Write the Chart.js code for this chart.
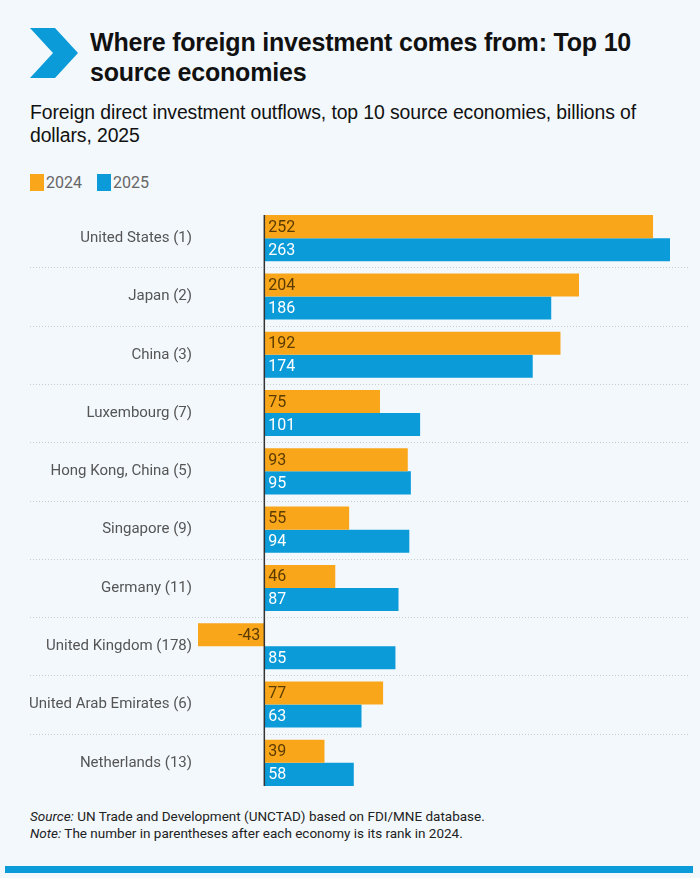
<!DOCTYPE html>
<html>
<head>
<meta charset="utf-8">
<script src="https://cdn.jsdelivr.net/npm/chart.js@4"></script>
<style>
  body { margin: 0; background: #f3f8fc; width: 700px; height: 878px; overflow: hidden; position: relative; font-family: "Liberation Sans", Arial, sans-serif; }
  .abs { position: absolute; }
  #title { left: 90px; top: 27px; font-size: 25px; font-weight: bold; line-height: 30px; color: #111; letter-spacing: -0.2px; }
  #subtitle { left: 30px; top: 101px; font-size: 19.4px; line-height: 23px; color: #111; letter-spacing: -0.1px; }
  #legend { left: 30px; top: 173px; font-family: Roboto, sans-serif; font-size: 16px; color: #666; }
  #legend span.sw { display: inline-block; width: 14px; height: 17px; vertical-align: -3px; margin-right: 2px; }
  #legend span.item { margin-right: 11px; }
  #chartBox { left: 0; top: 194px; width: 700px; height: 613px; }
  #foot { left: 30px; top: 808px; font-family: Roboto, sans-serif; font-size: 13.5px; line-height: 17px; color: #222; }
  #bar { left: 5px; top: 866px; width: 688px; height: 7px; background: #0a9bd8; }
</style>
</head>
<body>
<svg class="abs" style="left:0;top:0" width="90" height="90">
  <polygon points="30,28 55,28 78,53 55,78 30,78 53,53" fill="#0a9bd8"/>
</svg>
<div id="title" class="abs">Where foreign investment comes from: Top 10<br>source economies</div>
<div id="subtitle" class="abs">Foreign direct investment outflows, top 10 source economies, billions of<br>dollars, 2025</div>
<div id="legend" class="abs">
  <span class="item"><span class="sw" style="background:#f9a61b"></span>2024</span>
  <span class="item"><span class="sw" style="background:#0a9bd8"></span>2025</span>
</div>
<div id="chartBox" class="abs"><canvas id="c" width="700" height="613"></canvas></div>
<div id="foot" class="abs"><i>Source:</i> UN Trade and Development (UNCTAD) based on FDI/MNE database.<br><i>Note:</i> The number in parentheses after each economy is its rank in 2024.</div>
<div id="bar" class="abs"></div>
<script>
const categories = ["United States (1)", "Japan (2)", "China (3)", "Luxembourg (7)", "Hong Kong, China (5)",
  "Singapore (9)", "Germany (11)", "United Kingdom (178)", "United Arab Emirates (6)", "Netherlands (13)"];
const values2024 = [252, 204, 192, 75, 93, 55, 46, -43, 77, 39];
const values2025 = [263, 186, 174, 101, 95, 94, 87, 85, 63, 58];

const ORANGE = "#f9a61b";
const BLUE = "#0a9bd8";
const labelFont = "Roboto, sans-serif";

const decor = {
  id: "decor",
  beforeDatasetsDraw(chart) {
    const { ctx, chartArea } = chart;
    const h = (chartArea.bottom - chartArea.top) / categories.length;
    ctx.save();
    ctx.strokeStyle = "#c9cdd1";
    ctx.lineWidth = 1;
    ctx.setLineDash([1, 2]);
    for (let i = 1; i < categories.length; i++) {
      const y = Math.round(chartArea.top + i * h) + 0.5;
      ctx.beginPath();
      ctx.moveTo(30, y);
      ctx.lineTo(690, y);
      ctx.stroke();
    }
    ctx.restore();
  },
  afterDatasetsDraw(chart) {
    const { ctx } = chart;
    const x0 = chart.scales.x.getPixelForValue(0);
    ctx.save();
    ctx.font = "16px " + labelFont;
    ctx.textBaseline = "middle";
    chart.data.datasets.forEach((ds, di) => {
      chart.getDatasetMeta(di).data.forEach((bar, i) => {
        const v = ds.data[i];
        ctx.fillStyle = di === 0 ? "#5a3b00" : "#ffffff";
        if (v < 0) {
          ctx.textAlign = "right";
          ctx.fillText(String(v), x0 - 4, bar.y + 1);
        } else {
          ctx.textAlign = "left";
          ctx.fillText(String(v), x0 + 4, bar.y + 1);
        }
      });
    });
    const first = chart.getDatasetMeta(0).data[0];
    const last = chart.getDatasetMeta(1).data[categories.length - 1];
    ctx.strokeStyle = "#333";
    ctx.lineWidth = 1.5;
    ctx.beginPath();
    ctx.moveTo(x0, first.y - first.height / 2);
    ctx.lineTo(x0, last.y + last.height / 2);
    ctx.stroke();
    ctx.restore();
  }
};

new Chart(document.getElementById("c"), {
  type: "bar",
  data: {
    labels: categories,
    datasets: [
      { label: "2024", data: values2024, backgroundColor: ORANGE },
      { label: "2025", data: values2025, backgroundColor: BLUE }
    ]
  },
  options: {
    indexAxis: "y",
    responsive: false,
    animation: false,
    categoryPercentage: 0.79,
    barPercentage: 1,
    layout: { padding: { left: 0, right: 30, top: 0, bottom: 0 } },
    plugins: { legend: { display: false }, tooltip: { enabled: false } },
    scales: {
      x: { display: false, min: -43, max: 263 },
      y: {
        grid: { display: false, drawTicks: false },
        border: { display: false },
        afterFit(axis) { axis.width = 198; },
        ticks: { color: "#555", padding: 6, font: { family: labelFont, size: 15 } }
      }
    }
  },
  plugins: [decor]
});
</script>
</body>
</html>
